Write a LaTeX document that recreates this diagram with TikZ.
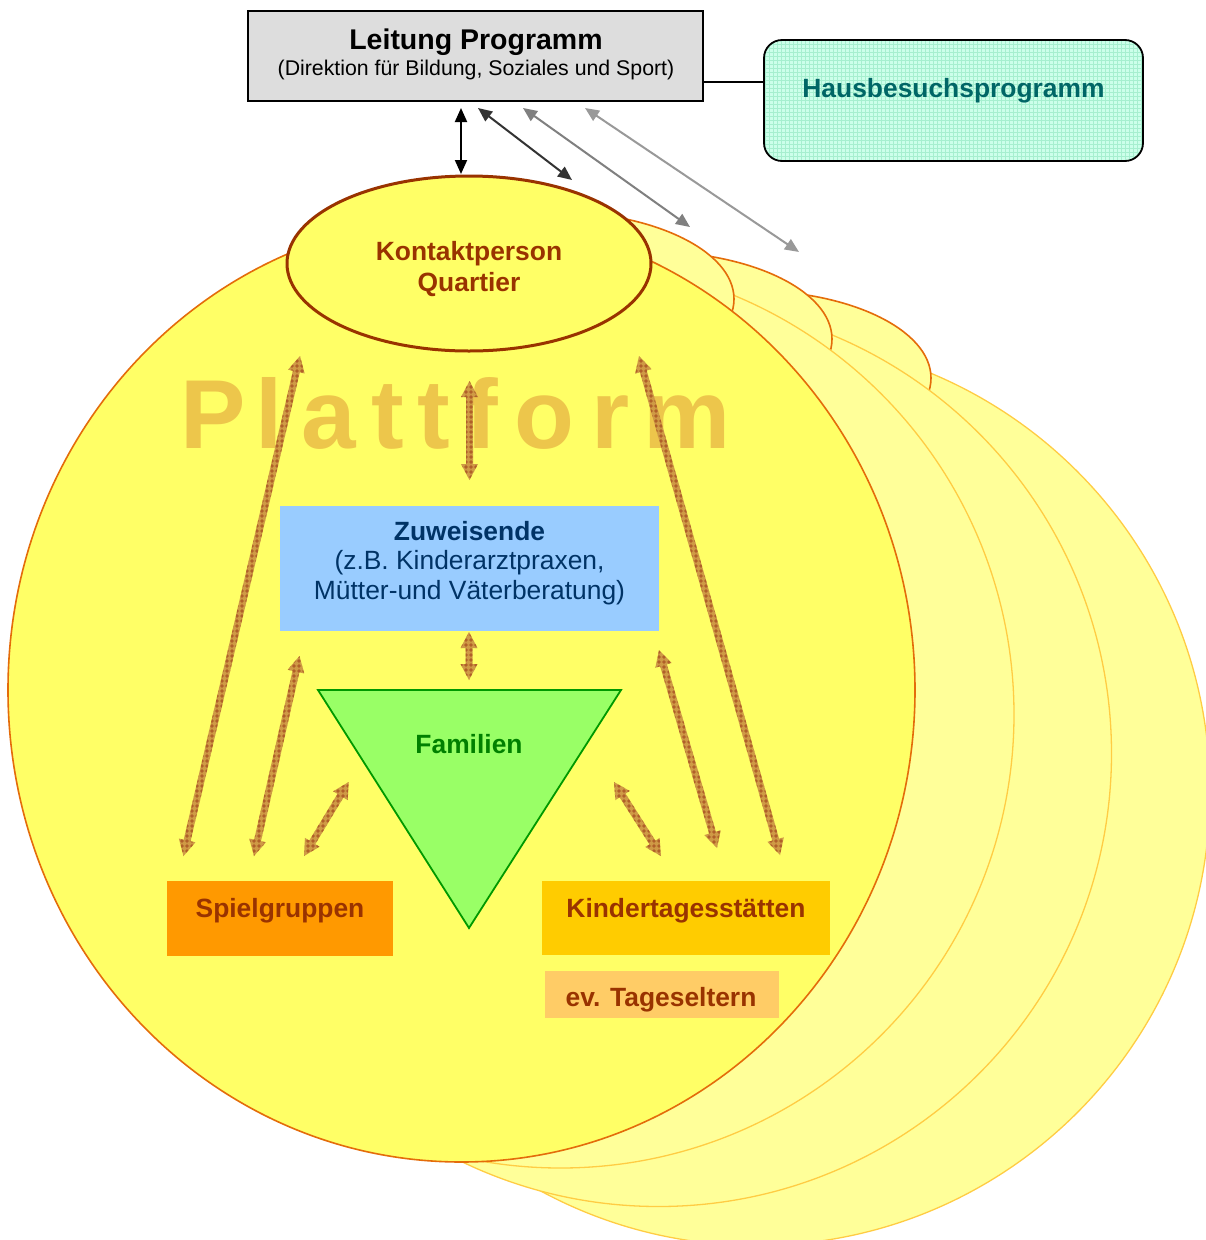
\documentclass[tikz,border=0pt]{standalone}
\usepackage{fontspec}
\setmainfont{Liberation Sans}
\usetikzlibrary{shapes.geometric,arrows.meta,calc,patterns}

\definecolor{frontfill}{HTML}{FFFF66}
\definecolor{backfill}{HTML}{FFFF99}
\definecolor{frontline}{HTML}{E46C0A}
\definecolor{backline}{HTML}{FFCC44}
\definecolor{humpline}{HTML}{E46C0A}
\definecolor{kpline}{HTML}{993300}
\definecolor{plat}{HTML}{EDC64B}
\definecolor{arrtan}{HTML}{CF9A45}
\definecolor{arrline}{HTML}{A0421A}
\definecolor{leitfill}{HTML}{DDDDDD}
\definecolor{mint}{HTML}{CCFFEA}
\definecolor{mintgrid}{HTML}{A6EFCF}
\definecolor{hbtext}{HTML}{006666}
\definecolor{zwfill}{HTML}{99CCFF}
\definecolor{zwtext}{HTML}{003366}
\definecolor{famfill}{HTML}{99FF66}
\definecolor{famline}{HTML}{009900}
\definecolor{famtext}{HTML}{008000}
\definecolor{sgfill}{HTML}{FF9900}
\definecolor{kitafill}{HTML}{FFCC00}
\definecolor{tefill}{HTML}{FFCC66}
\definecolor{brtext}{HTML}{993300}
\definecolor{darkarr}{HTML}{333333}
\definecolor{midarr}{HTML}{808080}
\definecolor{lightarr}{HTML}{999999}

\pgfdeclarepatternformonly{browngrid}{\pgfpointorigin}{\pgfqpoint{4.5pt}{4.5pt}}{\pgfqpoint{4.5pt}{4.5pt}}{%
  \pgfsetlinewidth{0.7pt}%
  \pgfpathmoveto{\pgfqpoint{0pt}{2.25pt}}\pgfpathlineto{\pgfqpoint{4.5pt}{2.25pt}}%
  \pgfpathmoveto{\pgfqpoint{2.25pt}{0pt}}\pgfpathlineto{\pgfqpoint{2.25pt}{4.5pt}}%
  \pgfusepath{stroke}}

\tikzset{
  lbl/.style={font=\fontsize{26.4}{31}\selectfont\bfseries, inner sep=0pt},
  brownarrow/.style={fill=arrtan, postaction={pattern=browngrid, pattern color=arrline}},
  grayarrow/.style={line width=2pt, {Triangle[width=12pt,length=14pt]}-{Triangle[width=12pt,length=14pt]}},
  plattletter/.style={font=\fontsize{98}{98}\selectfont\bfseries, text=plat, anchor=base, inner sep=0pt},
  backcircle/.style={fill=backfill, draw=backline, line width=1.3pt},
  hump/.style={fill=backfill, draw=humpline, line width=1.6pt},
  colbox/.style={rectangle, inner sep=0pt},
}

\newcommand\brarrow[2]{%
  \coordinate (bA) at (#1);
  \coordinate (bB) at (#2);
  \coordinate (bC) at ($(bA)!16pt!(bB)$);
  \coordinate (bD) at ($(bB)!16pt!(bA)$);
  \path[brownarrow] (bA) -- ($(bC)!8.5pt!90:(bB)$) -- ($(bC)!3.5pt!90:(bB)$)
    -- ($(bD)!3.5pt!-90:(bA)$) -- ($(bD)!8.5pt!-90:(bA)$) -- (bB)
    -- ($(bD)!8.5pt!90:(bA)$) -- ($(bD)!3.5pt!90:(bA)$)
    -- ($(bC)!3.5pt!-90:(bB)$) -- ($(bC)!8.5pt!-90:(bB)$) -- cycle;}

\begin{document}
\begin{tikzpicture}[x=1pt,y=-1pt]
\useasboundingbox (0,0) rectangle (1206,1240);
\fill[white] (0,0) rectangle (1206,1240);
\begin{scope}
\clip (0,0) rectangle (1206,1240);
% back layers
\draw[backcircle] (756.5,792) circle[radius=453.5pt];
\draw[hump] (749,378) ellipse[x radius=182pt, y radius=87.5pt];
\draw[backcircle] (658.5,753.5) circle[radius=453pt];
\draw[hump] (650,339) ellipse[x radius=182pt, y radius=87.5pt];
\draw[backcircle] (560.5,714.5) circle[radius=453.5pt];
\draw[hump] (552,299) ellipse[x radius=182pt, y radius=87.5pt];
% front circle
\draw[fill=frontfill, draw=frontline, line width=1.6pt] (461.5,690) ellipse[x radius=453.5pt, y radius=472pt];
\end{scope}

% Plattform
\foreach \l/\x [count=\i] in {P/213,l/269.5,a/329,t/387.5,t/434,f/482,o/544,r/610.5,m/687.5}
  \node[plattletter] (pl\i) at (\x,448) {\l};

% Kontaktperson
\node[ellipse, minimum width=364pt, minimum height=175pt, fill=frontfill, draw=kpline,
  line width=3pt, inner sep=0pt] (kp) at (469,263.5) {};
\node[font=\fontsize{26.4}{31}\selectfont\bfseries, text=brtext, align=center, inner sep=0pt]
  (kpt) at (469,269.5) {Kontaktperson\\Quartier};

% Leitung
\node[draw=black, line width=2pt, fill=leitfill, minimum width=455pt, minimum height=90pt, inner sep=0pt] (lp) at (475.5,56) {};
\node[font=\fontsize{28.5}{34}\selectfont\bfseries, inner sep=0pt] (lpt) at (476,42) {Leitung Programm};
\node[font=\fontsize{21.3}{25}\selectfont, inner sep=0pt] (lps) at (476,70) {(Direktion für Bildung, Soziales und Sport)};

% Hausbesuchsprogramm
\node[draw=black, line width=1.8pt, fill=mint, rounded corners=18pt, minimum width=379pt,
  minimum height=121pt, inner sep=0pt,
  path picture={\draw[mintgrid, line width=0.5pt] (path picture bounding box.south west) grid[step=4pt] (path picture bounding box.north east);}]
  (hb) at (953.5,100.5) {};
\node[lbl, text=hbtext] (hbt) at (953.5,91) {Hausbesuchsprogramm};
\coordinate (lc) at ([yshift=-26pt]lp.east);
\draw[line width=1.2pt] (lc) -- (lc -| hb.west);

% gray arrows
\coordinate (g1a) at (461,108); \coordinate (g1b) at (461,174);
\coordinate (g2a) at (478,108); \coordinate (g2b) at (572,180);
\coordinate (g3a) at (523,108); \coordinate (g3b) at (690,227);
\coordinate (g4a) at (585,108); \coordinate (g4b) at (799,252);
\draw[grayarrow, black] (g1a) -- (g1b);
\draw[grayarrow, darkarr] (g2a) -- (g2b);
\draw[grayarrow, midarr] (g3a) -- (g3b);
\draw[grayarrow, lightarr] (g4a) -- (g4b);

% Zuweisende
\node[colbox, fill=zwfill, minimum width=379pt, minimum height=125pt] (zw) at (469.5,568.5) {};
\node[font=\fontsize{26.4}{29.5}\selectfont, text=zwtext, align=center, inner sep=0pt] (zwt) at (469.5,563)
  {\textbf{Zuweisende}\\(z.B. Kinderarztpraxen,\\Mütter-und Väterberatung)};

% Familien
\coordinate (t1) at (318,690); \coordinate (t2) at (621,690); \coordinate (t3) at (469,928);
\draw[fill=famfill, draw=famline, line width=1.8pt, line join=miter] (t1) -- (t2) -- (t3) -- cycle;
\node[lbl, text=famtext] (fam) at (469,744) {Familien};

% boxes
\node[colbox, fill=sgfill, minimum width=226pt, minimum height=75pt] (sg) at (280,918.5) {};
\node[lbl, text=brtext] (sgt) at (280,911) {Spielgruppen};
\node[colbox, fill=kitafill, minimum width=288pt, minimum height=74pt] (kita) at (686,918) {};
\node[lbl, text=brtext] (kitat) at (686,911) {Kindertagesstätten};
\node[colbox, fill=tefill, minimum width=234pt, minimum height=47pt] (te) at (662,994.5) {};
\node[lbl, text=brtext] (tet) at (661,1000) {ev. Tageseltern};

% brown arrows
\coordinate (aA1) at (300,356);   \coordinate (aA2) at (183.5,856);
\coordinate (aB1) at (299.5,656); \coordinate (aB2) at (254,856);
\coordinate (aC1) at (348.7,782); \coordinate (aC2) at (304,856);
\coordinate (aD1) at (469.5,381); \coordinate (aD2) at (469.5,480);
\coordinate (aE1) at (469,632);   \coordinate (aE2) at (469,680);
\coordinate (aF1) at (614,782);   \coordinate (aF2) at (661,856);
\coordinate (aG1) at (659,650);   \coordinate (aG2) at (717,848);
\coordinate (aH1) at (639,356);   \coordinate (aH2) at (780,855);
\brarrow{aA1}{aA2}
\brarrow{aB1}{aB2}
\brarrow{aC1}{aC2}
\brarrow{aD1}{aD2}
\brarrow{aE1}{aE2}
\brarrow{aF1}{aF2}
\brarrow{aG1}{aG2}
\brarrow{aH1}{aH2}
\end{tikzpicture}
\end{document}
